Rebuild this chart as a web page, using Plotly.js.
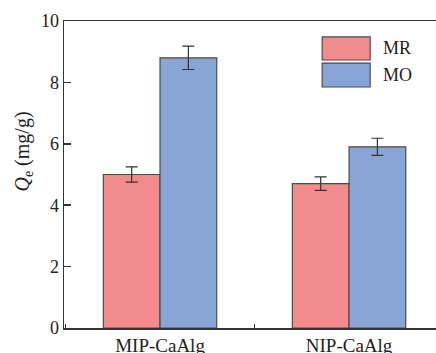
<!DOCTYPE html>
<html><head><meta charset="utf-8">
<script src="https://cdn.plot.ly/plotly-3.0.1.min.js"></script>
<style>html,body{margin:0;padding:0;background:#fff}#chart{width:436px;height:353px}</style>
</head><body><div id="chart"></div>
<script>
const categories = ["MIP-CaAlg", "NIP-CaAlg"];
const seriesNames = ["MR", "MO"];
const mrValues = [5.0, 4.7];
const mrErrors = [0.25, 0.22];
const moValues = [8.8, 5.9];
const moErrors = [0.38, 0.28];
const yTicks = [0, 2, 4, 6, 8, 10];

const colors = ["#F28C8C", "#88A5D6"];
const edge = "#4a4a4a";
const serif = "'Liberation Serif', 'Times New Roman', serif";

const traces = [
  {type: "bar", name: seriesNames[0], x: categories, y: mrValues,
   marker: {color: colors[0], line: {color: edge, width: 1.2}},
   error_y: {type: "data", array: mrErrors, visible: true, color: "#333", thickness: 1.2, width: 6}},
  {type: "bar", name: seriesNames[1], x: categories, y: moValues,
   marker: {color: colors[1], line: {color: edge, width: 1.2}},
   error_y: {type: "data", array: moErrors, visible: true, color: "#333", thickness: 1.2, width: 6}}
];

const legendShapes = [];
const legendAnn = [];
const legendY = [[0.948, 0.873], [0.863, 0.785]];
seriesNames.forEach((n, i) => {
  legendShapes.push({type: "rect", xref: "paper", yref: "paper", x0: 0.694, x1: 0.823,
    y0: legendY[i][1], y1: legendY[i][0], fillcolor: colors[i], line: {color: edge, width: 1.2}});
  legendAnn.push({xref: "paper", yref: "paper", x: 0.852, y: (legendY[i][0] + legendY[i][1]) / 2,
    xanchor: "left", yanchor: "middle", showarrow: false, text: n,
    font: {family: serif, size: 18, color: "#222"}});
});

const layout = {
  width: 436, height: 353,
  margin: {l: 64, r: 0, t: 21, b: 25},
  paper_bgcolor: "#fff", plot_bgcolor: "#fff",
  showlegend: false,
  barmode: "group", bargap: 0.4, bargroupgap: 0,
  xaxis: {type: "category", range: [-0.508, 1.46], showline: true, mirror: true,
    linecolor: "#333", linewidth: 1.5, ticks: "inside", tickson: "boundaries", ticklen: 4,
    tickcolor: "#333", tickwidth: 1.5, showgrid: false, zeroline: false,
    tickfont: {family: serif, size: 19, color: "#222"}},
  yaxis: {range: [0, 10], tickvals: yTicks, showline: true, mirror: false,
    linecolor: "#333", linewidth: 1.5, ticks: "inside", ticklen: 7, tickcolor: "#333",
    tickwidth: 1.5, showgrid: false, zeroline: false,
    tickfont: {family: serif, size: 18, color: "#222"}},
  shapes: legendShapes,
  annotations: legendAnn.concat([
    {xref: "paper", yref: "paper", x: -0.11, y: 0.575, xanchor: "center", yanchor: "middle",
     textangle: -90, showarrow: false, text: "<i>Q</i><sub>e</sub> (mg/g)",
     font: {family: serif, size: 20, color: "#222"}}
  ])
};

Plotly.newPlot("chart", traces, layout, {displayModeBar: false, staticPlot: true});
</script></body></html>
